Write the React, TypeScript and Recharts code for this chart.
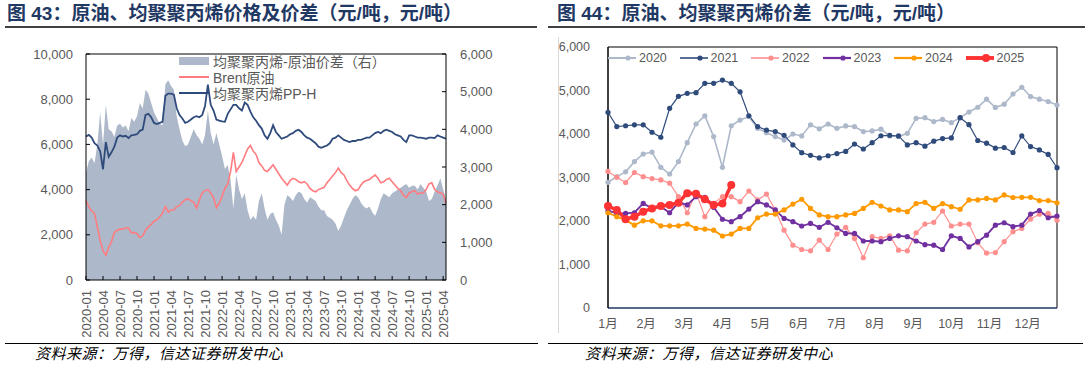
import React from "react";
import {
  Area,
  ComposedChart,
  Legend,
  Line,
  LineChart,
  ReferenceLine,
  XAxis,
  YAxis,
} from "recharts";

const FONT = '"Liberation Sans", Arial, "Noto Sans CJK SC", sans-serif';
const GREY = "#595959";
const TITLE = "#1f3864";

// fig 43: half-monthly points, 2020-01 .. 2025-04
const quarterLabels = [
  "2020-01", "2020-04", "2020-07", "2020-10",
  "2021-01", "2021-04", "2021-07", "2021-10",
  "2022-01", "2022-04", "2022-07", "2022-10",
  "2023-01", "2023-04", "2023-07", "2023-10",
  "2024-01", "2024-04", "2024-07", "2024-10",
  "2025-01", "2025-04",
];

const brentPrice = [
  3500, 3250, 3050, 2950, 2350, 1750, 1300, 1100, 1450, 1700, 2100, 2200,
  2250, 2250, 2300, 2300, 2080, 2100, 2050, 1880, 1950, 2200, 2350, 2450,
  2600, 2650, 2800, 2950, 3250, 3000, 3100, 3100, 3250, 3300, 3450, 3550,
  3600, 3500, 3450, 3170, 3550, 3850, 3950, 4000, 3850, 3650, 3200, 3400,
  3700, 4050, 4250, 4800, 5650, 4800, 5000, 5200, 5500, 5800, 5950, 5700,
  5550, 5200, 5050, 4850, 4800, 4950, 5100, 4900, 4700, 4500, 4350, 4200,
  4400, 4500, 4450, 4350, 4300, 4350, 4250, 4050, 3950, 3900, 4000, 4050,
  4100, 4300, 4450, 4600, 4750, 4950, 4750, 4650, 4400, 4200, 4050, 3950,
  4000, 4200, 4350, 4400, 4450, 4550, 4650, 4500, 4300, 4350, 4450, 4500,
  4350, 4200, 4050, 3950, 3750, 3650, 3850, 3900, 3950, 3800, 3850, 3850,
  4000, 4250, 4300, 4000, 3900, 3850, 3800, 3400,
];

const ppPrice = [
  6350, 6420, 6300, 6050, 5950, 5700, 4900, 6100, 5450, 5650, 5900, 6300,
  6400, 6350, 6380, 6280, 6400, 6420, 6450, 6600, 6650, 7300, 7350, 7200,
  6950, 6900, 6950, 7000, 8150, 8250, 8250, 8200, 7600, 7300, 7150, 6950,
  7000, 7100, 7200, 7250, 7200, 7300, 7700, 8650, 7750, 7500, 7100, 7050,
  7020, 7000, 7350, 7550, 7750, 7750, 7600, 7500, 7850, 7750, 7450, 7200,
  7050, 6850, 6700, 6400, 6250, 6500, 6850, 6550, 6400, 6250, 6300, 6350,
  6450, 6500, 6600, 6650, 6550, 6400, 6300, 6250, 6150, 6050, 5900, 5850,
  5900, 5950, 6050, 6250, 6300, 6400, 6300, 6200, 6150, 6100, 6150, 6150,
  6200, 6200, 6250, 6300, 6300, 6400, 6500, 6550, 6500, 6600, 6650, 6600,
  6550, 6450, 6400, 6350, 6200, 6100, 6400, 6400, 6350, 6300, 6300, 6280,
  6250, 6300, 6300, 6280, 6400, 6350, 6300, 6250,
];

const ppSpread = [
  2850, 3150, 3250, 3100, 3600, 4450, 3600, 4650, 4000, 3950, 3800, 4100,
  4150, 4050, 4100, 3950, 4300, 4200, 4350, 4700, 4550, 5050, 4950, 4700,
  4450, 4300, 4150, 4100, 5200, 5300, 5150, 5050, 4350, 4000, 3700, 3550,
  3600, 3800, 4000, 3850, 3750, 3600, 3850, 4500, 3900, 3600, 3900, 3600,
  3300, 2950, 3050, 2650, 1900, 2800, 2400, 2150, 2300, 1850, 1600, 1700,
  1600, 2100, 2300, 1900, 1600, 1750, 1800, 1600, 1450, 1200, 2000, 2250,
  2200, 2100, 2250, 2350, 2300, 2150, 2050, 2200, 2150, 2100, 1950, 1850,
  1850, 1700, 1650, 1600, 1500, 1300, 1450, 1650, 1850, 2000, 2150, 2250,
  2200, 2050, 1950, 1900, 1950, 1800, 1700, 1900, 2150, 2300, 2250, 2200,
  2300, 2350, 2400, 2450, 2500, 2550, 2450, 2500, 2500, 2400, 2550, 2450,
  2350, 2100, 2150, 2350, 2500, 2700, 2400, 2150,
];

// fig 44: weekly spread by year
const monthLabels = ["1月", "2月", "3月", "4月", "5月", "6月", "7月", "8月", "9月", "10月", "11月", "12月"];

const spread2020 = [
  2890, 3020, 3130, 3365, 3540, 3585, 3235, 3080, 3365, 3800, 4230, 4415, 3940,
  3235, 4190, 4320, 4400, 4130, 4030, 3940, 3860, 4000, 3955, 4210, 4120, 4230,
  4130, 4185, 4170, 4055, 4070, 4110, 3955, 3940, 4015, 4360, 4375, 4285, 4335,
  4260, 4375, 4505, 4615, 4800, 4610, 4685, 4920, 5075, 4860, 4800, 4745, 4665,
];
const spread2021 = [
  4500, 4170, 4190, 4210, 4210, 4040, 3925, 4590, 4865, 4935, 4950, 5165, 5165,
  5240, 5165, 4970, 4420, 4170, 4090, 4055, 3970, 3750, 3570, 3510, 3450, 3500,
  3550, 3600, 3770, 3655, 3800, 3960, 3970, 3955, 3750, 3800, 3720, 3835, 3895,
  3910, 4375, 4215, 3850, 3790, 3675, 3690, 3575, 3955, 3710, 3635, 3530, 3225,
];
const spread2022 = [
  3140, 3005, 2885, 3115, 3020, 2975, 2945, 2870, 2560, 2190, 2655, 2100, 2405,
  2560, 2560, 2445, 2690, 2485, 2620, 2255, 1790, 1445, 1345, 1315, 1560, 1345,
  1700, 1855, 1600, 1155, 1640, 1600, 1660, 1330, 1315, 1730, 1930, 1970, 2230,
  1885, 1930, 1930, 1500, 1260, 1275, 1525, 1755, 1830, 2045, 2155, 2175, 2020,
];
const spread2023 = [
  2240, 2175, 2175, 2190, 2405, 2290, 2330, 2190, 2430, 2370, 2560, 2545, 2315,
  2040, 1985, 2100, 2275, 2445, 2370, 2255, 2060, 1985, 1885, 1945, 1855, 1970,
  1845, 1715, 1715, 1540, 1540, 1525, 1600, 1660, 1640, 1540, 1455, 1445, 1345,
  1660, 1600, 1405, 1525, 1675, 1905, 1960, 1870, 1905, 2160, 2240, 2075, 2115,
];
const spread2024 = [
  2190, 2100, 2020, 1905, 2005, 2005, 1890, 1890, 1890, 1930, 1830, 1815, 1790,
  1655, 1700, 1830, 1830, 2075, 2160, 2160, 2255, 2390, 2500, 2290, 2140, 2100,
  2100, 2140, 2175, 2290, 2430, 2345, 2255, 2255, 2215, 2400, 2430, 2290, 2400,
  2330, 2270, 2485, 2485, 2520, 2485, 2600, 2540, 2545, 2545, 2470, 2470, 2420,
];
const spread2025 = [
  2345, 2255, 2040, 2100, 2215, 2290, 2345, 2370, 2420, 2640, 2625, 2500, 2370,
  2400, 2830,
];

const years = [
  { key: "y2020", name: "2020", values: spread2020, color: "#adb9ca", width: 1.6, r: 2.6 },
  { key: "y2021", name: "2021", values: spread2021, color: "#2f4b7c", width: 1.2, r: 2.6 },
  { key: "y2022", name: "2022", values: spread2022, color: "#ff8f8f", width: 1.2, r: 2.6 },
  { key: "y2023", name: "2023", values: spread2023, color: "#7030a0", width: 1.8, r: 2.6 },
  { key: "y2024", name: "2024", values: spread2024, color: "#ff9900", width: 1.8, r: 2.6 },
  { key: "y2025", name: "2025", values: spread2025, color: "#ff3333", width: 3.5, r: 4 },
];

const fmt = (v: number) => v.toLocaleString("en-US");

const QuarterTick = (props: any) => {
  const { x, y, payload } = props;
  return (
    <text
      x={x}
      y={y}
      transform={`rotate(-90, ${x}, ${y})`}
      textAnchor="end"
      dominantBaseline="central"
      fontSize={13}
      fill={GREY}
    >
      {quarterLabels[Math.round(payload.value / 3)]}
    </text>
  );
};

const PriceLegend = () => {
  const items = [
    { label: "均聚聚丙烯-原油价差（右）", kind: "box", color: "#adb9ca" },
    { label: "Brent原油", kind: "line", color: "#ff7c80" },
    { label: "均聚聚丙烯PP-H", kind: "line", color: "#2f4b7c" },
  ];
  return (
    <div style={{ fontSize: 14, color: GREY }}>
      {items.map((it) => (
        <div key={it.label} style={{ display: "flex", alignItems: "center", height: 16 }}>
          <svg width={31} height={16} style={{ marginRight: 3 }}>
            {it.kind === "box" ? (
              <rect x={0} y={4} width={30} height={8} fill={it.color} />
            ) : (
              <line x1={0} x2={30} y1={8} y2={8} stroke={it.color} strokeWidth={2} />
            )}
          </svg>
          <span>{it.label}</span>
        </div>
      ))}
    </div>
  );
};

const YearLegend = () => (
  <div style={{ display: "flex", fontSize: 12.5, color: GREY }}>
    {years.map((y) => (
      <div key={y.key} style={{ display: "flex", alignItems: "center", width: 71.5, height: 16 }}>
        <svg width={28} height={16} style={{ marginRight: 3 }}>
          <line x1={0} x2={28} y1={8} y2={8} stroke={y.color} strokeWidth={y.width + 0.4} />
          <circle cx={20} cy={8} r={y.r} fill={y.color} />
        </svg>
        <span>{y.name}</span>
      </div>
    ))}
  </div>
);

function PriceChart() {
  const rows = brentPrice.map((b, i) => ({
    m: i / 2,
    brent: b,
    pp: ppPrice[i],
    spread: ppSpread[i],
  }));
  return (
    <ComposedChart
      width={540}
      height={345}
      data={rows}
      margin={{ top: 54, right: 34, bottom: 5, left: 20 }}
    >
      <XAxis
        dataKey="m"
        type="number"
        domain={[0, 63.5]}
        ticks={quarterLabels.map((_, k) => k * 3)}
        interval={0}
        tick={<QuarterTick />}
        tickSize={-4}
        tickMargin={14}
        height={60}
        axisLine={{ stroke: "#000" }}
        tickLine={{ stroke: "#000" }}
      />
      <YAxis
        yAxisId="left"
        domain={[0, 10000]}
        ticks={[0, 2000, 4000, 6000, 8000, 10000]}
        width={66}
        tickSize={-4}
        tickMargin={17}
        tickFormatter={fmt}
        tick={{ fill: GREY, fontSize: 13 }}
        axisLine={{ stroke: "#000" }}
        tickLine={{ stroke: "#000" }}
      />
      <YAxis
        yAxisId="right"
        orientation="right"
        domain={[0, 6000]}
        ticks={[0, 1000, 2000, 3000, 4000, 5000, 6000]}
        width={60}
        tickSize={-4}
        tickMargin={18}
        tickFormatter={fmt}
        tick={{ fill: GREY, fontSize: 13, textAnchor: "start" }}
        axisLine={{ stroke: "#000" }}
        tickLine={{ stroke: "#000" }}
      />
      <Area
        yAxisId="right"
        dataKey="spread"
        type="linear"
        fill="#adb9ca"
        fillOpacity={1}
        stroke="none"
        isAnimationActive={false}
      />
      <Line
        yAxisId="left"
        dataKey="brent"
        type="linear"
        stroke="#ff7c80"
        strokeWidth={1.6}
        dot={false}
        isAnimationActive={false}
      />
      <Line
        yAxisId="left"
        dataKey="pp"
        type="linear"
        stroke="#2f4b7c"
        strokeWidth={1.8}
        dot={false}
        isAnimationActive={false}
      />
      <ReferenceLine yAxisId="left" y={10000} stroke="#000" />
      <Legend
        layout="horizontal"
        verticalAlign="middle"
        align="center"
        content={<PriceLegend />}
        wrapperStyle={{ top: 53, left: 179, width: 260 }}
      />
    </ComposedChart>
  );
}

function SeasonChart() {
  const rows = spread2020.map((_, w) => {
    const row: Record<string, number | undefined> = { w };
    years.forEach((y) => {
      row[y.key] = y.values[w];
    });
    return row;
  });
  return (
    <LineChart
      width={543}
      height={345}
      data={rows}
      margin={{ top: 47, right: 31, bottom: 7, left: 0 }}
    >
      <XAxis
        dataKey="w"
        type="number"
        domain={[0, 51]}
        ticks={monthLabels.map((_, k) => (k * 52) / 12)}
        tickFormatter={(v: number) => monthLabels[Math.round((v * 12) / 52)]}
        interval={0}
        tickLine={false}
        tickSize={0}
        tickMargin={11}
        height={30}
        axisLine={{ stroke: "#1f3864", strokeWidth: 1.5 }}
        tick={{ fill: GREY, fontSize: 12.5 }}
      />
      <YAxis
        domain={[0, 6000]}
        ticks={[0, 1000, 2000, 3000, 4000, 5000, 6000]}
        width={63}
        tickLine={false}
        tickSize={0}
        tickMargin={18}
        tickFormatter={fmt}
        tick={{ fill: GREY, fontSize: 12.5 }}
        axisLine={{ stroke: "#000", strokeWidth: 1.5 }}
      />
      <ReferenceLine y={6000} stroke="#000" />
      <ReferenceLine x={51} stroke="#000" />
      {years.map((y) => (
        <Line
          key={y.key}
          dataKey={y.key}
          name={y.name}
          type="linear"
          stroke={y.color}
          strokeWidth={y.width}
          dot={{ r: y.r, fill: y.color, stroke: y.color, strokeWidth: 0 }}
          isAnimationActive={false}
        />
      ))}
      <Legend
        layout="horizontal"
        verticalAlign="middle"
        align="center"
        content={<YearLegend />}
        wrapperStyle={{ top: 50, left: 63, width: 440 }}
      />
    </LineChart>
  );
}

const hr = (left: number, top: number, width: number, color: string, h: number) => (
  <div style={{ position: "absolute", left, top, width, height: h, background: color }} />
);

export default function App() {
  const titleStyle: React.CSSProperties = {
    position: "absolute",
    top: 4,
    fontSize: 19,
    fontWeight: "bold",
    color: TITLE,
    whiteSpace: "nowrap",
    lineHeight: "20px",
    fontFamily: FONT,
  };
  const sourceStyle: React.CSSProperties = {
    position: "absolute",
    top: 344,
    fontSize: 15,
    fontStyle: "italic",
    color: "#000",
    whiteSpace: "nowrap",
    lineHeight: "18px",
    letterSpacing: 0.5,
    fontFamily: '"Noto Sans CJK SC", sans-serif',
  };
  return (
    <div
      style={{
        position: "absolute",
        left: 0,
        top: 0,
        width: 1088,
        height: 367,
        background: "#fff",
        fontFamily: FONT,
        overflow: "hidden",
      }}
    >
      <div style={{ ...titleStyle, left: 7 }}>图 43：原油、均聚聚丙烯价格及价差（元/吨，元/吨）</div>
      <div style={{ ...titleStyle, left: 557 }}>图 44：原油、均聚聚丙烯价差（元/吨，元/吨）</div>
      {hr(5, 26, 532, "#404040", 1.5)}
      {hr(548, 26, 537, "#404040", 1.5)}

      <div style={{ position: "absolute", left: 0, top: 0 }}>
        <PriceChart />
      </div>

      <div style={{ position: "absolute", left: 558, top: 37, width: 1, height: 296, background: "#d9d9d9" }} />
      <div style={{ position: "absolute", left: 545, top: 0 }}>
        <SeasonChart />
      </div>

      {hr(5, 343, 533, "#000", 1)}
      {hr(548, 343, 535, "#000", 1)}
      <div style={{ ...sourceStyle, left: 35 }}>资料来源：万得，信达证券研发中心</div>
      <div style={{ ...sourceStyle, left: 585 }}>资料来源：万得，信达证券研发中心</div>
    </div>
  );
}
